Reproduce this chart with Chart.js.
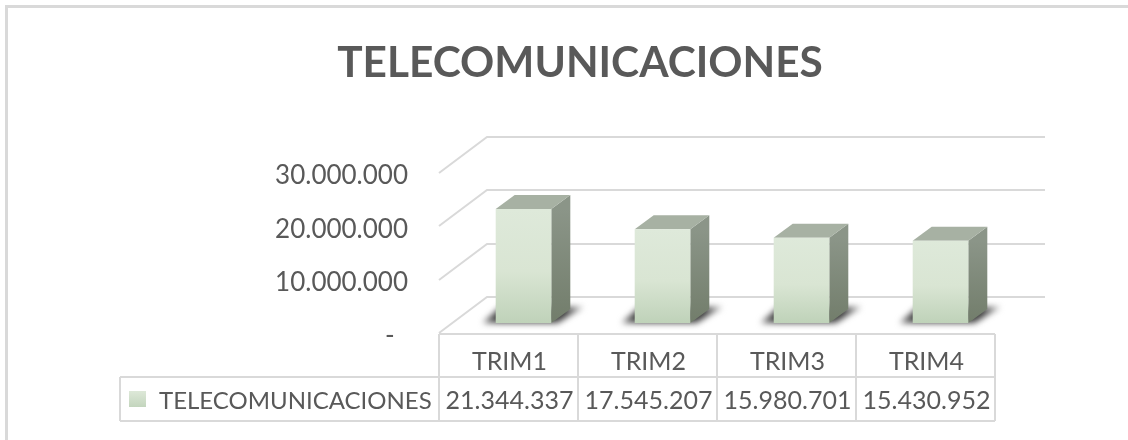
<!DOCTYPE html>
<html>
<head>
<meta charset="utf-8">
<style>
html,body{margin:0;padding:0;background:#fff;overflow:hidden}
#wrap{position:absolute;left:0;top:0;width:1128px;height:440px}
</style>
<script src="https://cdn.jsdelivr.net/npm/chart.js@4"></script>
</head>
<body>
<div id="wrap"><canvas id="c" width="1128" height="440"></canvas></div>
<script>
const categories = ['TRIM1','TRIM2','TRIM3','TRIM4'];
const seriesName = 'TELECOMUNICACIONES';
const seriesValues = [21344337,17545207,15980701,15430952];
const tickValues = [0,10000000,20000000,30000000];
const titleText = 'TELECOMUNICACIONES';

const TEXT = '#595959', GRID = '#d9d9d9';
const FONT = 'Lato';
const fmt = v => String(v).replace(/\B(?=(\d{3})+$)/g,'.');
const DEPTH_X = 19, DEPTH_Y = -14;   // bar depth
const SHIFT_X = 15, SHIFT_Y = -10;   // bars sit inside the floor
const WALL_X = 48, WALL_Y = -36;     // wall offset

const scene = {
  id:'scene',
  beforeDraw(chart){
    const {ctx,chartArea:a,scales:{y}} = chart;
    ctx.save();
    // frame
    ctx.strokeStyle = GRID; ctx.lineWidth = 3;
    ctx.beginPath(); ctx.moveTo(6.5,440); ctx.lineTo(6.5,6.5); ctx.lineTo(1128,6.5); ctx.stroke();
    // walls
    ctx.lineWidth = 2;
    tickValues.forEach(t=>{
      const p = Math.round(y.getPixelForValue(t));
      ctx.beginPath();
      ctx.moveTo(a.left,p);
      ctx.lineTo(a.left+WALL_X,p+WALL_Y);
      ctx.lineTo(a.right+50,p+WALL_Y);
      ctx.stroke();
    });
    // data table
    const top=334, mid=377, bot=421, left=120;
    ctx.beginPath();
    ctx.moveTo(a.left,top); ctx.lineTo(a.right,top);
    ctx.moveTo(left,mid); ctx.lineTo(a.right,mid);
    ctx.moveTo(left,bot); ctx.lineTo(a.right,bot);
    ctx.moveTo(left,mid); ctx.lineTo(left,bot);
    const w=(a.right-a.left)/categories.length;
    for(let i=0;i<=categories.length;i++){
      const x=a.left+i*w;
      ctx.moveTo(x,top); ctx.lineTo(x,bot);
    }
    ctx.stroke();
    // table texts
    ctx.fillStyle = TEXT;
    ctx.font = '25px '+FONT;
    ctx.textBaseline='middle';
    ctx.textAlign='center';
    seriesValues.forEach((v,i)=>ctx.fillText(fmt(v),a.left+(i+.5)*w+1,401));
    ctx.font = '24px '+FONT;
    ctx.textAlign='left';
    ctx.fillText(seriesName,159,401);
    const g=ctx.createLinearGradient(0,391,0,407);
    g.addColorStop(0,'#dde8d8'); g.addColorStop(1,'#c3d5bd');
    ctx.fillStyle=g; ctx.fillRect(129,391,17,16);
    ctx.restore();
  },
  beforeDatasetsDraw(chart){
    const {ctx} = chart;
    ctx.save();
    ctx.translate(SHIFT_X,SHIFT_Y);
    chart.getDatasetMeta(0).data.forEach(b=>{
      const l=b.x-b.width/2, r=b.x+b.width/2, t=b.y, f=b.base;
      // shadow on the floor
      ctx.save();
      ctx.filter='blur(3px)';
      const sg=ctx.createLinearGradient(l-13,0,r+33,0);
      sg.addColorStop(0,'#777'); sg.addColorStop(.15,'#3c3c3c'); sg.addColorStop(.8,'#3c3c3c'); sg.addColorStop(1,'#aaa');
      ctx.fillStyle=sg;
      ctx.beginPath();
      ctx.moveTo(l-13,f); ctx.lineTo(r+6,f); ctx.lineTo(r+32,f-16); ctx.lineTo(l+5,f-16);
      ctx.closePath(); ctx.fill();
      ctx.restore();
      // side face
      const s=ctx.createLinearGradient(0,t,0,f);
      s.addColorStop(0,'#8b9588'); s.addColorStop(1,'#727d6b');
      ctx.fillStyle=s;
      ctx.beginPath();
      ctx.moveTo(r,t); ctx.lineTo(r+DEPTH_X,t+DEPTH_Y); ctx.lineTo(r+DEPTH_X,f+DEPTH_Y); ctx.lineTo(r,f);
      ctx.closePath(); ctx.fill();
      // top face
      ctx.fillStyle='#a7b1a3';
      ctx.beginPath();
      ctx.moveTo(l,t); ctx.lineTo(l+DEPTH_X,t+DEPTH_Y); ctx.lineTo(r+DEPTH_X,t+DEPTH_Y); ctx.lineTo(r,t);
      ctx.closePath(); ctx.fill();
    });
  },
  afterDatasetsDraw(chart){ chart.ctx.restore(); }
};

function barFill(context){
  const {chart,dataIndex}=context;
  const y=chart.scales.y;
  if(!y||dataIndex===undefined) return '#d9e5d3';
  const top=y.getPixelForValue(seriesValues[dataIndex]), base=y.getPixelForValue(0);
  if(!isFinite(top)||!isFinite(base)||top===base) return '#d9e5d3';
  const g=chart.ctx.createLinearGradient(0,top,0,base);
  g.addColorStop(0,'#dee9da'); g.addColorStop(.55,'#d9e5d3'); g.addColorStop(1,'#bfd2b9');
  return g;
}

new Chart(document.getElementById('c'),{
  type:'bar',
  data:{labels:categories,datasets:[{label:seriesName,data:seriesValues,backgroundColor:barFill,borderWidth:0,barPercentage:.4,categoryPercentage:1}]},
  options:{
    responsive:false,animation:false,
    layout:{padding:{top:0,right:133,bottom:0,left:165}},
    plugins:{
      legend:{display:false},tooltip:{enabled:false},
      title:{display:true,text:titleText,color:TEXT,font:{family:FONT,size:42.4,weight:'bold',lineHeight:1.2},padding:{top:38,bottom:84}}
    },
    scales:{
      x:{
        grid:{display:false},border:{display:false},
        ticks:{color:TEXT,font:{family:FONT,size:25},padding:6,maxRotation:0,labelOffset:1},
        afterFit(s){s.height=107;}
      },
      y:{
        min:0,max:30000000,
        afterFit(s){s.width=274;},
        afterBuildTicks(s){s.ticks=tickValues.map(v=>({value:v}));},
        grid:{display:false},border:{display:false},
        ticks:{color:TEXT,font:{family:FONT,size:26},padding:23,labelOffset:3,
          callback:v=>v===0?'-  ':fmt(v)}
      }
    }
  },
  plugins:[scene]
});
</script>
</body>
</html>
